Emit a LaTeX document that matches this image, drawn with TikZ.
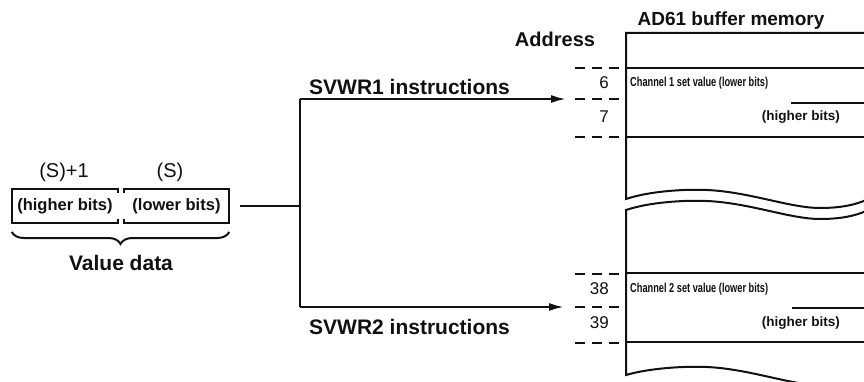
\documentclass[tikz,border=0pt]{standalone}
\usepackage{fontspec}
\setmainfont{Liberation Sans}
\usetikzlibrary{arrows.meta,decorations.pathreplacing}
\definecolor{pc111111}{HTML}{111111}

\tikzset{
  wire/.style={line width=2.2bp, draw=pc111111},
  memline/.style={line width=2bp, draw=pc111111},
  addrdash/.style={line width=2.2bp, draw=pc111111, dash pattern=on 10bp off 7bp},
  biglbl/.style={inner sep=0, text=pc111111, font=\bfseries\fontsize{21bp}{25bp}\selectfont},
  addrnum/.style={inner sep=0, text=pc111111, font=\fontsize{17bp}{20bp}\selectfont},
  wordlbl/.style={inner sep=0, text=pc111111, font=\fontsize{20bp}{24bp}\selectfont},
  cellbox/.style={inner sep=0, minimum height=33bp, text=pc111111, font=\bfseries\fontsize{16.5bp}{19bp}\selectfont},
  cellnote/.style={inner sep=0, text=pc111111, font=\bfseries\fontsize{13bp}{15bp}\selectfont},
  hinote/.style={inner sep=0, text=pc111111, font=\bfseries\fontsize{13.5bp}{16bp}\selectfont}
}

\begin{document}
\begin{tikzpicture}[x=1bp,y=1bp]
\path[use as bounding box] (0,0) rectangle (864,381);
\clip (0,0) rectangle (864,381);
\path[fill=white] (0,0) rectangle (864,381);

% value data in the word device
\node[cellbox, minimum width=106bp] (hibox) at (65,175) {(higher bits)};
\node[cellbox, minimum width=105bp] (lobox) at (176.5,175) {(lower bits)};
\draw[memline] ([yshift=-4bp]hibox.north east) -- (hibox.north east) -- (hibox.north west)
  -- (hibox.south west) -- (hibox.south east) -- ++(0,4);
\draw[memline] ([yshift=-4bp]lobox.north west) -- (lobox.north west) -- (lobox.north east)
  -- (lobox.south east) -- (lobox.south west) -- ++(0,4);
\node[wordlbl] (soff) at (64,209) {(S)+1};
\node[wordlbl] (sbase) at (170,209) {(S)};
\draw[memline, decorate, decoration={brace, mirror, amplitude=12bp}]
  (hibox.south west |- 0,149) -- (lobox.south east |- 0,149);
\node[biglbl] (vallbl) at (121,118) {Value data};

% branch to the two instructions
\coordinate (split) at (300,175);
\coordinate (branchtop) at (300,282);
\coordinate (branchbot) at (300,74);
\coordinate (tipone) at (566,282);
\coordinate (tiptwo) at (564,74);
\draw[wire, shorten <=11bp] (lobox.east) -- (split);
\draw[wire] (branchtop) -- (branchbot);
\draw[wire, -{Latex[length=15bp,width=8bp]}] (branchtop) -- (tipone);
\draw[wire, -{Latex[length=15bp,width=8bp]}] (branchbot) -- (tiptwo);
\node[biglbl, anchor=west] (svwrone) at (309,294) {SVWR1 instructions};
\node[biglbl, anchor=west] (svwrtwo) at (309,54) {SVWR2 instructions};

% addresses
\node[biglbl, font=\bfseries\fontsize{20bp}{24bp}\selectfont] (addrlbl) at (555,342) {Address};
\foreach \yy in {313,282,244,107,74,38}
  \draw[addrdash] (575,\yy) -- (620,\yy);
\node[addrnum, anchor=east] (adsix) at (609,298) {6};
\node[addrnum, anchor=east] (adseven) at (609,264) {7};
\node[addrnum, anchor=east] (adthirtyeight) at (609,92) {38};
\node[addrnum, anchor=east] (adthirtynine) at (609,58) {39};

% buffer memory
\node[biglbl, font=\bfseries\fontsize{19bp}{23bp}\selectfont] (memlbl) at (731,360) {AD61 buffer memory};
\draw[memline] (866,348) -- (626,348) -- (626,182)
  .. controls (650,190) and (685,192) .. (707,191)
  .. controls (750,189) and (790,173) .. (820,173)
  .. controls (840,173) and (855,176) .. (866,181);
\draw[memline] (866,170)
  .. controls (855,165) and (840,162) .. (820,162)
  .. controls (790,162) and (750,178) .. (707,180)
  .. controls (685,181) and (650,179) .. (626,171) -- (626,6)
  .. controls (650,13) and (685,15) .. (707,14)
  .. controls (750,12) and (790,-4) .. (820,-4);
\draw[memline] (626,313) -- (866,313);
\draw[memline] (791,278) -- (866,278);
\draw[memline] (626,244) -- (866,244);
\draw[memline] (626,108) -- (866,108);
\draw[memline] (792,73) -- (866,73);
\draw[memline] (626,39) -- (866,39);
\node[cellnote, anchor=west] (chone) at (630,298) {\scalebox{0.71}[1]{Channel 1 set value (lower bits)}};
\node[hinote, anchor=east] (chonehi) at (840,264) {(higher bits)};
\node[cellnote, anchor=west] (chtwo) at (630,92) {\scalebox{0.71}[1]{Channel 2 set value (lower bits)}};
\node[hinote, anchor=east] (chtwohi) at (840,58) {(higher bits)};
\end{tikzpicture}
\end{document}
